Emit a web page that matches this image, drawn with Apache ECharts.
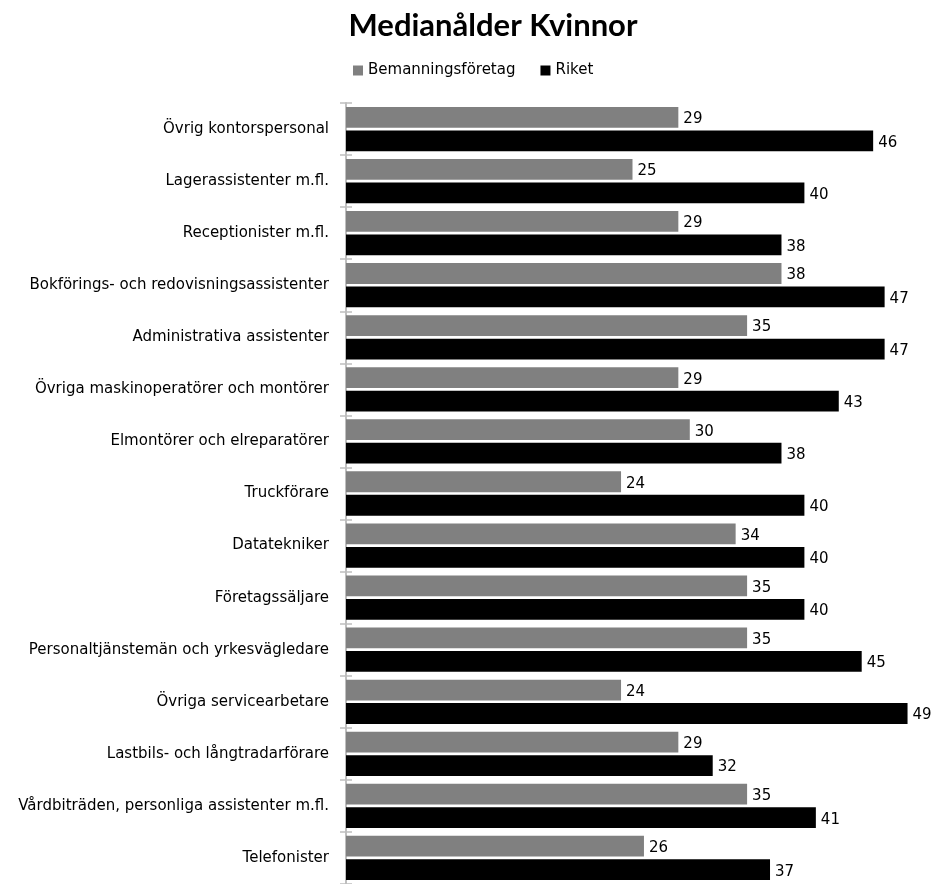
<!DOCTYPE html>
<html><head><meta charset="utf-8">
<script src="https://cdn.jsdelivr.net/npm/echarts@6/dist/echarts.min.js"></script>
<style>html,body{margin:0;padding:0;background:#fff}#c{width:939px;height:884px}</style>
</head><body><div id="c"></div>
<script>
const categories = [
  "Övrig kontorspersonal",
  "Lagerassistenter m.fl.",
  "Receptionister m.fl.",
  "Bokförings- och redovisningsassistenter",
  "Administrativa assistenter",
  "Övriga maskinoperatörer och montörer",
  "Elmontörer och elreparatörer",
  "Truckförare",
  "Datatekniker",
  "Företagssäljare",
  "Personaltjänstemän och yrkesvägledare",
  "Övriga servicearbetare",
  "Lastbils- och långtradarförare",
  "Vårdbiträden, personliga assistenter m.fl.",
  "Telefonister"
];
const bemanning = [29, 25, 29, 38, 35, 29, 30, 24, 34, 35, 35, 24, 29, 35, 26];
const riket = [46, 40, 38, 47, 47, 43, 38, 40, 40, 40, 45, 49, 32, 41, 37];

const font = "DejaVu Sans";
const chart = echarts.init(document.getElementById('c'), null, {renderer: 'canvas'});
chart.setOption({
  animation: false,
  backgroundColor: '#fff',
  title: {
    text: 'Medianålder Kvinnor',
    left: 488, textAlign: 'center', top: 5,
    textStyle: {fontFamily: 'Lato', fontWeight: 'bold', fontSize: 31, color: '#000'}
  },
  legend: {
    data: ['Bemanningsföretag', 'Riket'],
    left: 348, top: 58,
    itemWidth: 10, itemHeight: 10, itemGap: 25,
    icon: 'rect',
    textStyle: {fontFamily: font, fontSize: 15, color: '#000'}
  },
  grid: {left: 346, top: 103, right: 20, height: 788.6, containLabel: false},
  xAxis: {type: 'value', min: 0, max: 50, show: false},
  yAxis: [{
    type: 'category', data: categories, inverse: true,
    axisLine: {show: true, lineStyle: {color: '#bfbfbf', width: 2}},
    axisTick: {show: true, length: 6, lineStyle: {color: '#bfbfbf', width: 1.5}},
    axisLabel: {fontFamily: font, fontSize: 15, color: '#000', margin: 17}
  }, {
    type: 'category', data: categories, inverse: true, position: 'left',
    axisLine: {show: false},
    axisTick: {show: true, inside: true, length: 6, lineStyle: {color: '#bfbfbf', width: 1.5}},
    axisLabel: {show: false}
  }],
  series: [{
    name: 'Bemanningsföretag', type: 'bar', data: bemanning,
    itemStyle: {color: '#808080'},
    barGap: '13%', barCategoryGap: '15%',
    label: {show: true, position: 'right', distance: 5, fontFamily: font, fontSize: 15, color: '#000', offset: [0, 2]}
  }, {
    name: 'Riket', type: 'bar', data: riket,
    itemStyle: {color: '#000'},
    barGap: '13%', barCategoryGap: '15%',
    label: {show: true, position: 'right', distance: 5, fontFamily: font, fontSize: 15, color: '#000', offset: [0, 2]}
  }]
});
</script></body></html>
